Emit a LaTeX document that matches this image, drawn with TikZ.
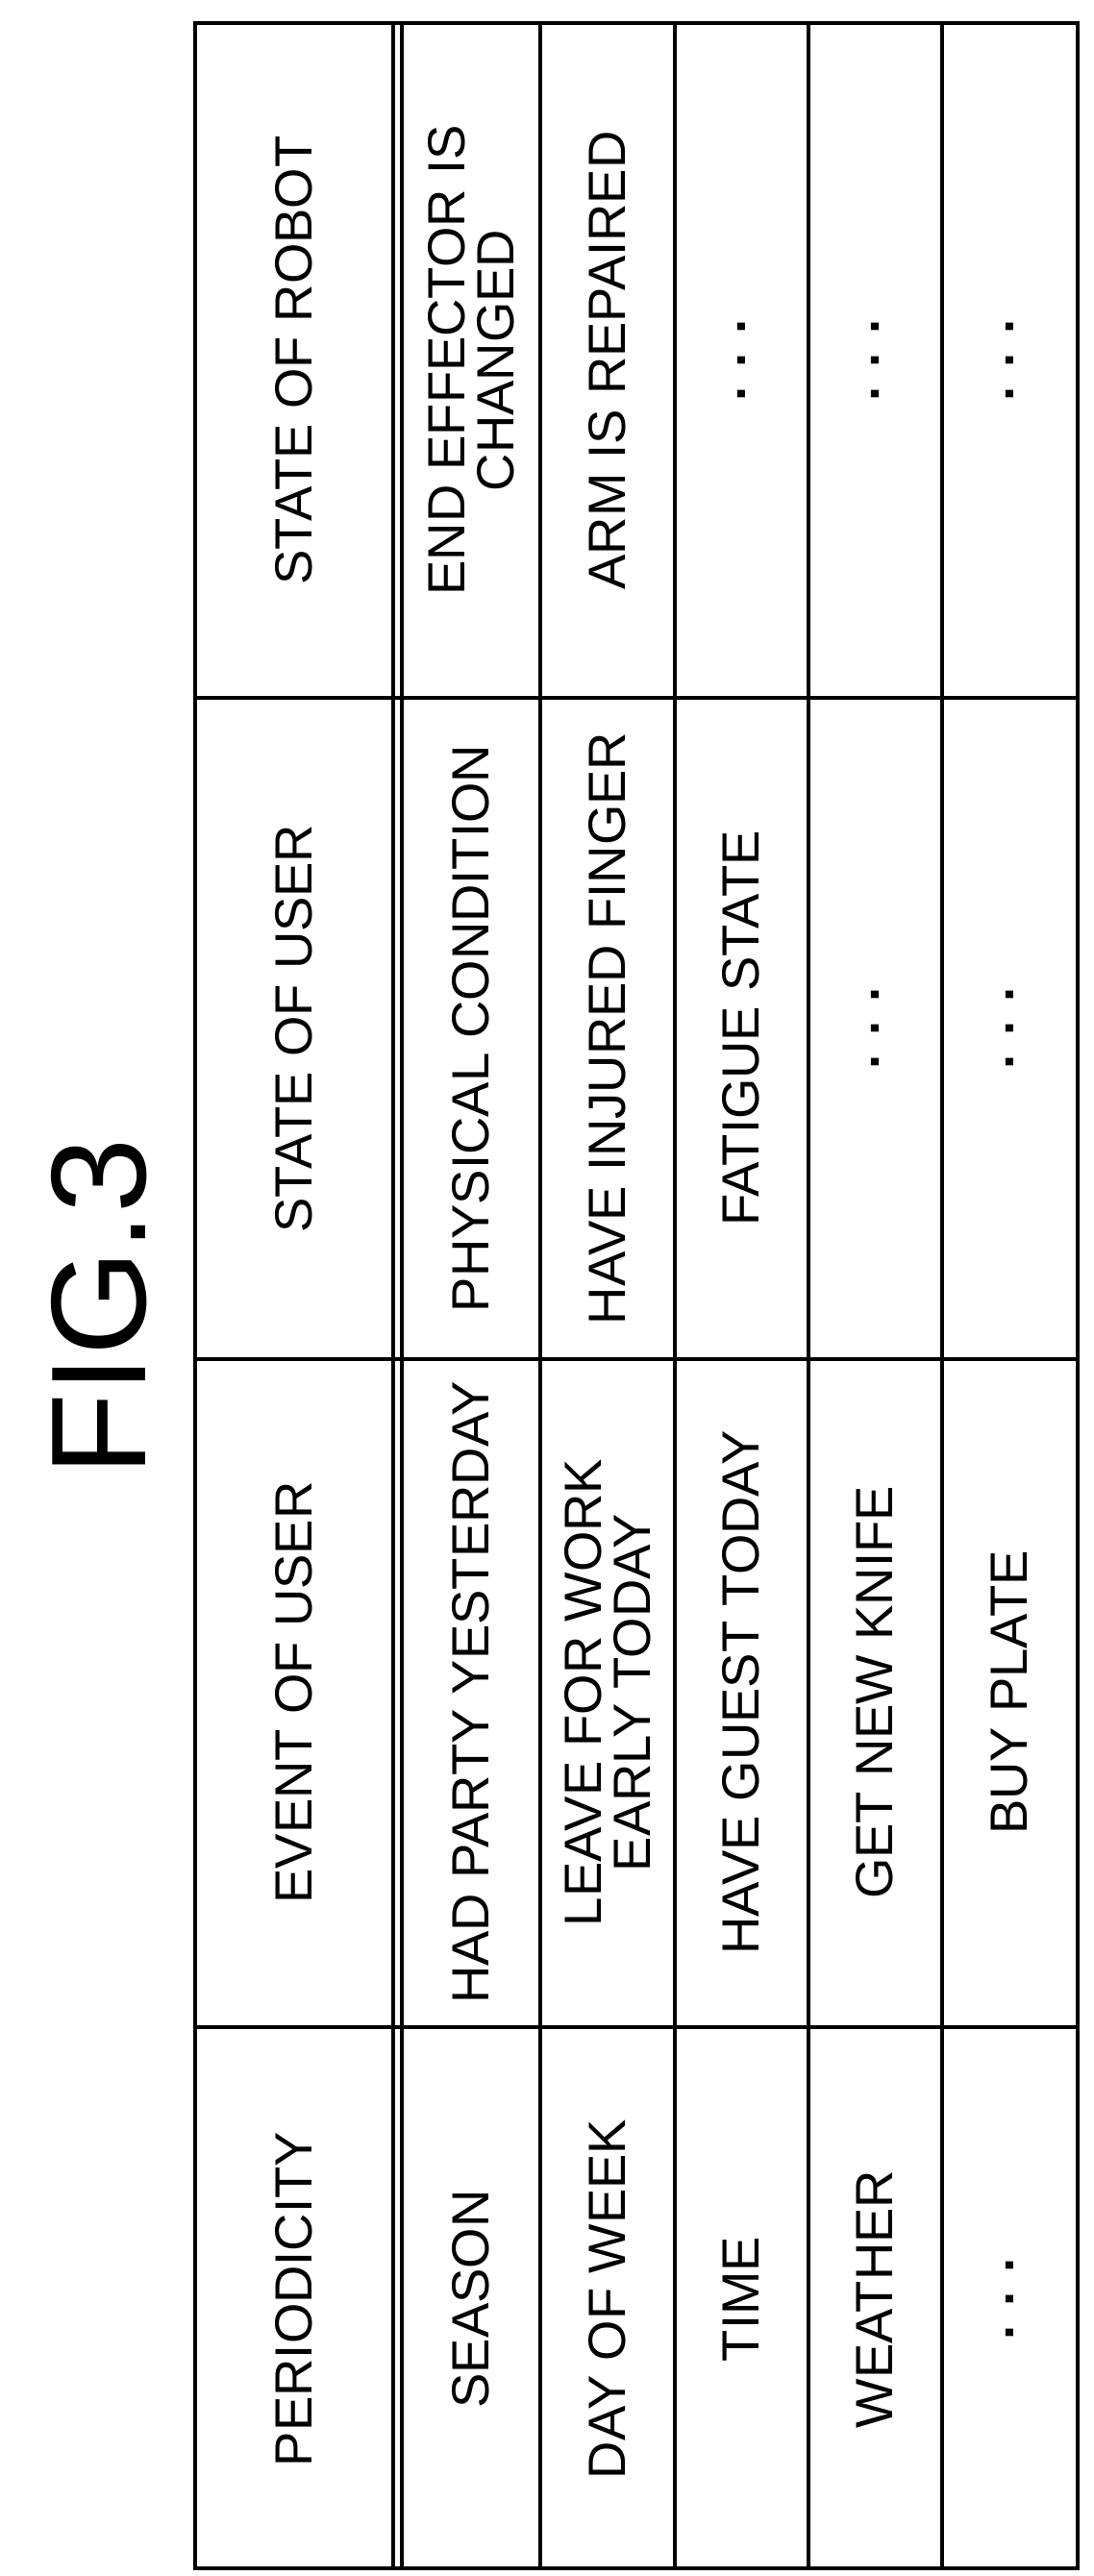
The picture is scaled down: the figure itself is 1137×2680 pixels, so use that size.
\documentclass[tikz,border=0pt]{standalone}
\usepackage{fontspec}
\setmainfont{Liberation Sans}
\begin{document}
\begin{tikzpicture}[x=0.02cm,y=-0.02cm,
  cell/.style={rotate=90,font=\fontsize{31}{31}\selectfont,align=center,inner sep=0pt},
  grid/.style={line width=1.8pt}]
\useasboundingbox (0,0) rectangle (1137,2680);
\node[rotate=90,font=\fontsize{80}{80}\selectfont] (fig) at (103,1360) {FIG.3};
% frame
\draw[grid] (203,24) rectangle (1121,2672);
\foreach \x in {409,418,562,702,841,980} \draw[grid] (\x,24) -- (\x,2672);
\foreach \y in {726,1414,2109} \draw[grid] (203,\y) -- (1121,\y);
% headers
\node[cell] (h1) at (306,2392) {PERIODICITY};
\node[cell] (h2) at (306,1761) {EVENT OF USER};
\node[cell] (h3) at (306,1070) {STATE OF USER};
\node[cell] (h4) at (306,375) {STATE OF ROBOT};
% periodicity
\node[cell] (p1) at (490,2392) {SEASON};
\node[cell] (p2) at (632,2392) {DAY OF WEEK};
\node[cell] (p3) at (771,2392) {TIME};
\node[cell] (p4) at (910,2392) {WEATHER};
\node[cell] (p5) at (1050,2392) {\textbf{. . .}};
% event
\node[cell] (e1) at (490,1761) {HAD PARTY YESTERDAY};
\node[cell] (e2) at (632,1761) {LEAVE FOR WORK\\[-2pt]EARLY TODAY};
\node[cell] (e3) at (771,1761) {HAVE GUEST TODAY};
\node[cell] (e4) at (910,1761) {GET NEW KNIFE};
\node[cell] (e5) at (1050,1761) {BUY PLATE};
% state of user
\node[cell] (u1) at (490,1070) {PHYSICAL CONDITION};
\node[cell] (u2) at (632,1070) {HAVE INJURED FINGER};
\node[cell] (u3) at (771,1070) {FATIGUE STATE};
\node[cell] (u4) at (910,1070) {\textbf{. . .}};
\node[cell] (u5) at (1050,1070) {\textbf{. . .}};
% robot
\node[cell] (r1) at (490,375) {END EFFECTOR IS\\[-2pt]CHANGED};
\node[cell] (r2) at (632,375) {ARM IS REPAIRED};
\node[cell] (r3) at (771,375) {\textbf{. . .}};
\node[cell] (r4) at (910,375) {\textbf{. . .}};
\node[cell] (r5) at (1050,375) {\textbf{. . .}};
\end{tikzpicture}
\end{document}
